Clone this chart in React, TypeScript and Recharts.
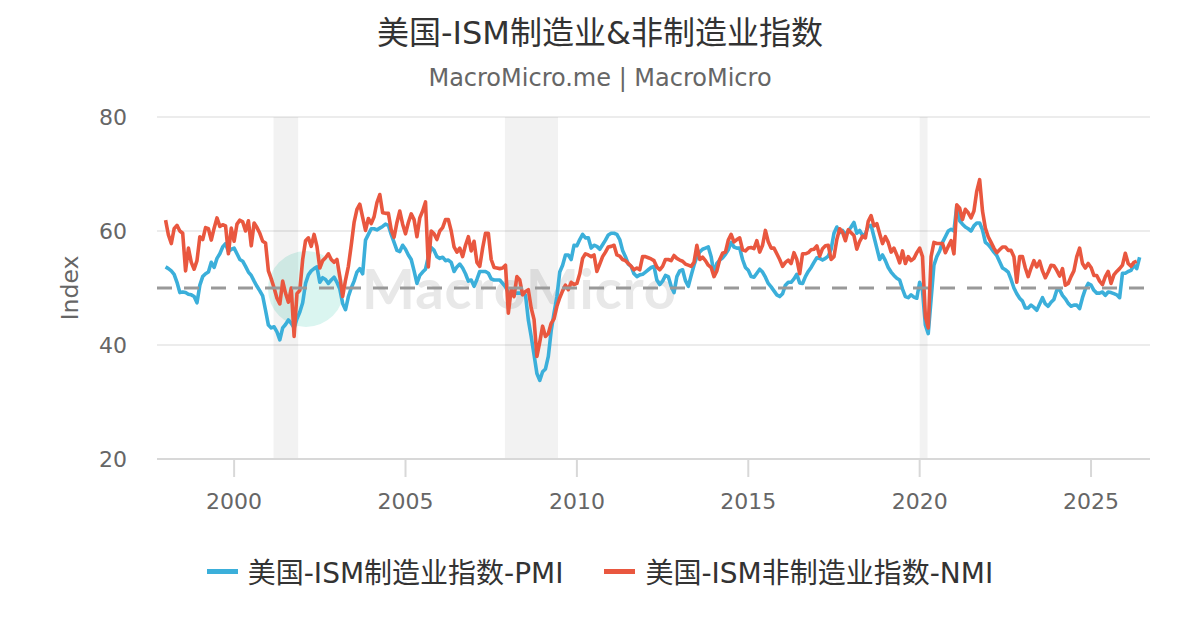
import React from 'react';
import {
  LineChart,
  Line,
  XAxis,
  YAxis,
  CartesianGrid,
  ReferenceLine,
  ReferenceArea,
  Legend,
} from 'recharts';

const FONT = "'DejaVu Sans', 'Noto Sans CJK SC', sans-serif";

const TITLE = '美国-ISM制造业&非制造业指数';
const SUBTITLE = 'MacroMicro.me | MacroMicro';
const PMI_NAME = '美国-ISM制造业指数-PMI';
const NMI_NAME = '美国-ISM非制造业指数-NMI';
const PMI_COLOR = '#3BAFDA';
const NMI_COLOR = '#E9573F';

const START_YEAR = 1998;

// Monthly values from Jan 1998
const pmiValues: number[] = [
  // 1998
  53.7, 53.4, 53.0, 52.4, 51.0, 49.2, 49.3, 49.2, 48.9, 48.8, 48.5, 47.4,
  // 1999
  50.5, 52.0, 52.5, 52.8, 54.5, 53.6, 55.2, 56.0, 57.2, 57.8, 56.4, 56.8,
  // 2000
  57.0, 56.0, 55.0, 54.7, 53.8, 52.8, 52.2, 51.2, 50.3, 49.5, 48.6, 46.1,
  // 2001
  43.5, 43.0, 43.2, 42.3, 40.9, 43.0, 43.6, 44.4, 43.8, 43.0, 44.6, 45.8,
  // 2002
  47.4, 50.8, 52.3, 53.0, 53.4, 53.7, 51.0, 51.8, 51.5, 50.8, 51.4, 51.9,
  // 2003
  51.0, 49.8, 47.3, 46.2, 48.5, 50.0, 51.2, 52.8, 53.4, 52.5, 58.4, 59.4,
  // 2004
  60.4, 60.4, 60.2, 60.5, 60.8, 61.2, 61.0, 59.4, 58.0, 56.6, 56.4, 57.5,
  // 2005
  56.8, 55.8, 55.0, 53.0, 50.8, 52.2, 52.8, 53.3, 55.5, 57.1, 56.6, 55.5,
  // 2006
  55.2, 55.4, 54.8, 54.9, 54.5, 52.9, 53.7, 54.2, 53.5, 52.5, 51.2, 51.4,
  // 2007
  50.3, 51.5, 52.9, 52.9, 52.9, 52.6, 51.6, 51.4, 51.4, 51.4, 50.8, 50.2,
  // 2008
  49.2, 48.8, 49.0, 49.1, 49.1, 49.0, 48.8, 44.4, 41.5, 38.3, 35.0, 33.8,
  // 2009
  35.3, 35.8, 38.0, 42.5, 45.6, 48.5, 52.8, 54.0, 55.8, 55.8, 55.0, 57.5,
  // 2010
  57.4, 58.5, 59.4, 58.8, 58.8, 57.0, 57.5, 57.3, 56.8, 57.6, 58.4, 59.3,
  // 2011
  59.6, 59.6, 59.4, 58.5, 56.6, 55.5, 54.2, 53.8, 52.5, 52.0, 52.3, 52.4,
  // 2012
  52.8, 53.2, 53.6, 53.8, 51.4, 50.6, 51.2, 52.2, 52.0, 50.3, 49.2, 52.0,
  // 2013
  53.0, 53.2, 51.3, 50.3, 52.2, 54.0, 55.5, 56.3, 56.8, 57.0, 57.2, 55.5,
  // 2014
  52.5, 54.3, 54.9, 55.3, 55.9, 56.7, 58.0, 57.2, 57.0, 57.0, 55.0, 53.6,
  // 2015
  53.1, 52.0, 51.9, 52.6, 53.3, 52.8, 51.9, 50.8, 50.2, 49.5, 48.8, 48.5,
  // 2016
  49.0, 50.5, 51.0, 51.0, 51.6, 52.4, 50.9, 50.8, 52.0, 52.9, 53.6, 54.5,
  // 2017
  55.3, 55.2, 54.9, 55.2, 55.6, 56.8, 59.6, 60.7, 59.7, 60.1, 59.4, 60.0,
  // 2018
  60.7, 61.5, 59.6, 60.1, 59.2, 59.5, 60.8, 61.0, 59.0, 57.0, 55.0, 55.8,
  // 2019
  54.8, 53.6, 52.8, 52.2, 51.7, 51.4, 49.8, 48.5, 48.3, 48.8, 48.4, 48.2,
  // 2020
  51.0, 49.5, 43.5, 42.0, 48.0, 54.0, 55.5, 56.5, 58.0, 59.0, 60.0, 60.3,
  // 2021
  60.0, 64.4, 61.8, 61.2, 60.7, 60.4, 60.0, 60.9, 61.4, 61.4, 60.2, 58.0,
  // 2022
  57.6, 57.0, 56.3, 55.7, 54.6, 53.5, 53.2, 52.8, 51.5, 50.0, 49.0, 48.2,
  // 2023
  47.7, 46.5, 46.5, 47.0, 46.6, 46.1, 47.2, 48.3, 47.2, 46.8, 47.5, 48.0,
  // 2024
  49.6, 49.7, 48.7, 48.1, 47.3, 46.8, 47.0, 47.0, 46.4, 48.3, 49.8, 50.8,
  // 2025
  50.5, 49.6, 49.1, 49.1, 49.3, 48.7, 49.3, 49.2, 49.0, 48.8, 48.3, 52.6,
  // 2026
  52.6, 52.9, 53.1, 54.0, 53.4, 55.4,
];

const nmiValues: number[] = [
  // 1998
  61.9, 59.3, 57.8, 60.4, 61.0, 60.0, 59.6, 53.0, 57.0, 54.5, 53.3, 54.8,
  // 1999
  59.0, 58.5, 60.6, 60.4, 58.4, 60.5, 62.3, 60.8, 61.1, 60.9, 56.0, 60.5,
  // 2000
  58.2, 61.2, 61.9, 61.6, 60.0, 61.8, 57.4, 61.4, 60.6, 59.6, 58.2, 57.9,
  // 2001
  53.0, 51.6, 50.0, 48.2, 47.2, 51.2, 49.1, 47.5, 50.0, 41.5, 49.0, 49.6,
  // 2002
  55.0, 58.3, 58.8, 57.3, 59.4, 57.3, 53.5, 54.8, 55.3, 56.0, 55.0, 54.5,
  // 2003
  55.0, 52.0, 48.5, 51.4, 53.8, 57.5, 61.5, 63.8, 64.7, 62.4, 60.1, 62.2,
  // 2004
  61.3, 62.5, 65.0, 66.4, 63.2, 63.1, 63.1, 60.2, 58.9, 61.5, 63.5, 61.2,
  // 2005
  59.5, 61.5, 63.0, 62.0, 59.0, 62.3, 63.5, 65.1, 53.7, 60.0, 59.5, 58.5,
  // 2006
  60.0, 60.6, 62.0, 62.0, 60.0, 57.2, 56.3, 57.0, 55.5, 57.5, 59.0, 56.5,
  // 2007
  58.2, 54.5, 53.8, 57.0, 59.6, 59.6, 55.0, 53.6, 53.5, 53.4, 53.5, 54.0,
  // 2008
  45.6, 49.7, 48.5, 52.0, 51.4, 48.8, 49.4, 49.7, 46.5, 44.5, 38.0, 40.5,
  // 2009
  43.3, 41.5, 42.0, 43.8, 44.6, 46.8, 48.3, 49.5, 50.5, 49.7, 51.0, 50.6,
  // 2010
  50.8, 52.5, 55.2, 56.0, 55.8, 55.5, 55.8, 52.9, 54.2, 55.5, 56.3, 57.2,
  // 2011
  57.3, 57.5, 55.8, 55.6, 55.0, 54.8, 54.3, 53.8, 53.2, 53.5, 53.2, 55.5,
  // 2012
  55.5, 55.3, 55.1, 54.8, 53.7, 53.2, 53.8, 55.0, 55.0, 54.8, 55.7, 55.2,
  // 2013
  54.9, 54.7, 54.2, 54.0, 53.8, 54.5, 57.5, 55.0, 55.4, 54.8, 54.0, 53.6,
  // 2014
  52.0, 53.0, 55.0, 56.1, 56.3, 58.4, 59.4, 58.1, 58.5, 58.8, 56.7, 56.5,
  // 2015
  57.0, 57.1, 56.9, 58.3, 56.3, 57.5, 60.1, 58.1, 57.0, 57.0, 56.0, 55.0,
  // 2016
  53.8, 54.5, 54.9, 54.3, 56.2, 55.0, 52.5, 56.0, 56.0, 56.2, 56.7, 56.8,
  // 2017
  57.4, 55.6, 56.9, 57.4, 57.5, 55.0, 55.5, 58.5, 60.4, 59.8, 58.3, 60.2,
  // 2018
  59.7, 59.2, 56.8, 58.2, 59.1, 58.8, 61.7, 62.7, 60.9, 61.3, 59.5, 57.8,
  // 2019
  59.0, 58.0, 56.3, 57.0, 55.8, 54.4, 56.5, 54.3, 55.5, 54.8, 55.2, 56.2,
  // 2020
  57.0, 55.5, 45.0, 43.0, 55.5, 58.0, 57.8, 57.8, 57.8, 56.2, 57.3, 58.3,
  // 2021
  56.0, 64.6, 64.0, 62.0, 63.8, 63.2, 62.3, 63.5, 67.0, 69.0, 63.5, 60.5,
  // 2022
  59.0, 58.0, 57.0, 56.2, 56.7, 57.2, 57.2, 56.6, 56.6, 55.5, 51.0, 55.5,
  // 2023
  55.5, 53.5, 52.0, 53.5, 54.8, 53.7, 54.7, 53.0, 51.8, 52.8, 54.0, 53.9,
  // 2024
  53.1, 52.1, 53.4, 50.5, 50.8, 52.0, 53.0, 55.5, 57.0, 54.3, 53.5, 54.3,
  // 2025
  53.6, 52.2, 52.2, 51.2, 50.6, 52.0, 52.9, 50.8, 52.3, 52.9, 53.4, 54.0,
  // 2026
  56.1, 54.3, 53.8, 54.5, 54.7,
];

// Recession periods (decimal years)
const recessionStarts = [2001.15, 2007.9, 2020.0];
const recessionEnds = [2001.87, 2009.45, 2020.23];

const xTicks = [2000, 2005, 2010, 2015, 2020, 2025];
const yTicks = [20, 40, 60, 80];
const X_DOMAIN: [number, number] = [1997.75, 2026.72];

const data = pmiValues.map((v, i) => ({
  t: START_YEAR + i / 12,
  pmi: v,
  nmi: i < nmiValues.length ? nmiValues[i] : null,
}));

const renderLegend = (props: any) => {
  const payload = props.payload || [];
  return (
    <div
      style={{
        display: 'flex',
        justifyContent: 'center',
        alignItems: 'center',
        fontFamily: FONT,
        fontSize: 28,
        color: '#333',
        gap: 41,
      }}
    >
      {payload.map((p: any) => (
        <div key={p.value} style={{ display: 'flex', alignItems: 'center' }}>
          <span
            style={{
              display: 'inline-block',
              width: 31,
              height: 5,
              background: p.color,
              marginRight: 10,
            }}
          />
          <span>{p.value}</span>
        </div>
      ))}
    </div>
  );
};

const YLabel = (props: any) => {
  const vb = props.viewBox || { x: 0, y: 0, width: 0, height: 0 };
  const cx = vb.x + 70;
  const cy = vb.y + vb.height / 2;
  return (
    <text
      x={cx}
      y={cy}
      transform={`rotate(-90 ${cx} ${cy})`}
      textAnchor="middle"
      dominantBaseline="central"
      fill="#666"
      fontSize={23.5}
      fontFamily={FONT}
    >
      Index
    </text>
  );
};

export default function App() {
  return (
    <div
      style={{
        position: 'absolute',
        left: 0,
        top: 0,
        width: 1200,
        height: 630,
        background: '#fff',
        overflow: 'hidden',
      }}
    >
      <div
        style={{
          position: 'absolute',
          top: 13,
          left: 0,
          width: 1200,
          textAlign: 'center',
          fontFamily: FONT,
          fontSize: 32,
          lineHeight: '40px',
          color: '#333',
        }}
      >
        {TITLE}
      </div>
      <div
        style={{
          position: 'absolute',
          top: 63,
          left: 0,
          width: 1200,
          textAlign: 'center',
          fontFamily: FONT,
          fontSize: 24,
          lineHeight: '30px',
          color: '#666',
        }}
      >
        {SUBTITLE}
      </div>
      {/* watermark */}
      <div
        style={{
          position: 'absolute',
          left: 268,
          top: 251,
          width: 76,
          height: 76,
          borderRadius: '50%',
          background: '#daf5f0',
        }}
      />
      <div
        style={{
          position: 'absolute',
          left: 362,
          top: 256,
          fontFamily: "'Lato', sans-serif",
          fontWeight: 700,
          fontSize: 56,
          lineHeight: '64px',
          color: '#e8e8e8',
          letterSpacing: 1,
        }}
      >
        MacroMicro
      </div>
      <div style={{ position: 'absolute', left: 0, top: 0 }}>
        <LineChart
          width={1200}
          height={630}
          data={data}
          margin={{ top: 117, right: 50, bottom: 131, left: 0 }}
        >
          {recessionStarts.map((s, i) => (
            <ReferenceArea
              key={`rec-${i}`}
              x1={s}
              x2={recessionEnds[i]}
              fill="#000"
              fillOpacity={0.05}
              stroke="none"
            />
          ))}
          <CartesianGrid
            horizontal
            vertical={false}
            stroke="#e6e6e6"
            strokeWidth={1.5}
          />
          <XAxis
            dataKey="t"
            type="number"
            domain={X_DOMAIN}
            ticks={xTicks}
            allowDataOverflow
            height={40}
            axisLine={{ stroke: '#d8d8d8', strokeWidth: 2 }}
            tickLine={{ stroke: '#d8d8d8', strokeWidth: 2 }}
            tickSize={18}
            tickMargin={16}
            tick={{ fill: '#666', fontSize: 22, fontFamily: FONT }}
            tickFormatter={(v: number) => String(Math.round(v))}
          />
          <YAxis
            type="number"
            domain={[20, 80]}
            ticks={yTicks}
            width={157}
            axisLine={false}
            tickLine={false}
            tickSize={0}
            tickMargin={30}
            tick={{ fill: '#666', fontSize: 22, fontFamily: FONT }}
            label={<YLabel />}
          />
          <Line
            type="linear"
            dataKey="pmi"
            name={PMI_NAME}
            stroke={PMI_COLOR}
            strokeWidth={3.6}
            dot={false}
            activeDot={false}
            isAnimationActive={false}
            strokeLinejoin="round"
          />
          <Line
            type="linear"
            dataKey="nmi"
            name={NMI_NAME}
            stroke={NMI_COLOR}
            strokeWidth={3.6}
            dot={false}
            activeDot={false}
            isAnimationActive={false}
            strokeLinejoin="round"
          />
          <ReferenceLine
            y={50}
            stroke="#999"
            strokeWidth={3}
            strokeDasharray="15 12"
          />
          <Legend
            layout="horizontal"
            verticalAlign="middle"
            align="center"
            content={renderLegend}
            wrapperStyle={{ top: 551, left: 0, width: 1200 }}
          />
        </LineChart>
      </div>
    </div>
  );
}
